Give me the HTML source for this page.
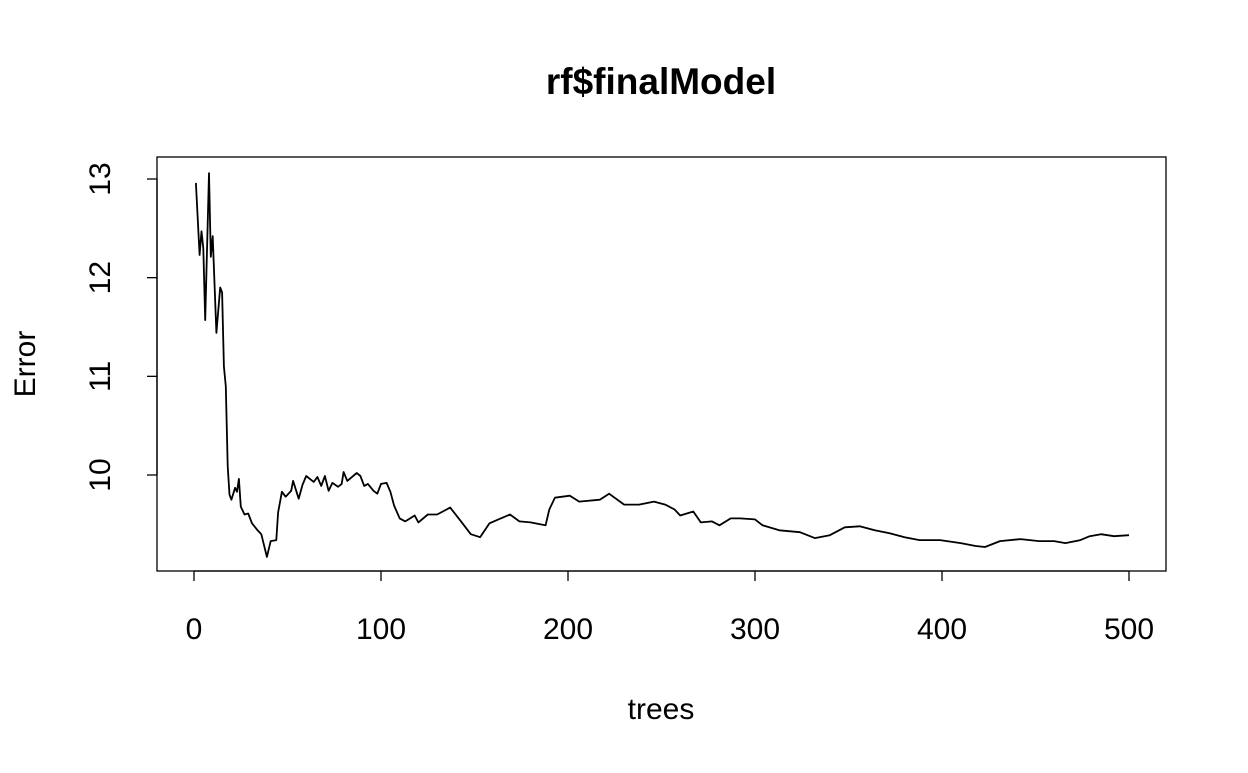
<!DOCTYPE html>
<html><head><meta charset="utf-8"><style>
body{margin:0;background:#fff}
svg text{font-family:"Liberation Sans",Arial,sans-serif;fill:#000}
</style></head><body>
<svg id="chart" width="1248" height="768" xmlns="http://www.w3.org/2000/svg">
<text x="661" y="94" font-size="37" font-weight="bold" text-anchor="middle">rf$finalModel</text>
<rect x="157" y="157" width="1009" height="414" fill="none" stroke="#000" stroke-width="1.3"/>
<g id="xaxis"></g>
<g id="yaxis"></g>
<text x="661" y="719" font-size="30" text-anchor="middle">trees</text>
<text x="0" y="0" font-size="30" text-anchor="middle" transform="translate(35,364) rotate(-90)">Error</text>
<path id="line" fill="none" stroke="#000" stroke-width="1.8" stroke-linejoin="round"/>
</svg>
<script>
const trees=[1,3,4,5,6,8,9,10,12,14,15,16,17,18,19,20,22,23,24,25,27,29,31,34,36,39,41,44,45,47,49,52,53,56,58,60,64,66,68,70,72,74,77,79,80,82,87,89,91,93,96,98,100,103,105,107,110,113,118,120,125,130,137,142,148,153,158,164,169,174,180,185,188,190,193,201,206,217,222,230,238,246,252,257,260,267,271,277,281,287,292,300,304,313,324,332,340,348,356,364,372,380,388,399,410,418,423,431,442,452,460,466,474,479,485,492,500];
const errors=[12.96,12.23,12.47,12.3,11.57,13.06,12.21,12.42,11.44,11.9,11.85,11.1,10.9,10.09,9.8,9.75,9.87,9.83,9.96,9.68,9.6,9.61,9.51,9.44,9.4,9.17,9.33,9.34,9.62,9.83,9.78,9.84,9.94,9.76,9.9,9.99,9.93,9.98,9.89,9.99,9.84,9.92,9.88,9.91,10.03,9.94,10.02,9.99,9.89,9.91,9.84,9.81,9.91,9.92,9.83,9.69,9.56,9.53,9.59,9.52,9.6,9.6,9.67,9.55,9.4,9.37,9.51,9.56,9.6,9.53,9.52,9.5,9.49,9.65,9.77,9.79,9.73,9.75,9.81,9.7,9.7,9.73,9.7,9.65,9.59,9.63,9.52,9.53,9.49,9.56,9.56,9.55,9.49,9.44,9.42,9.36,9.39,9.47,9.48,9.44,9.41,9.37,9.34,9.34,9.31,9.28,9.27,9.33,9.35,9.33,9.33,9.31,9.34,9.38,9.4,9.38,9.39];
const xTicks=[0,100,200,300,400,500];
const yTicks=[10,11,12,13];
const X=v=>194+(v-0)*(1129-194)/500;
const Y=v=>475-(v-10)*(475-179)/3;
const NS="http://www.w3.org/2000/svg";
const xa=document.getElementById('xaxis'),ya=document.getElementById('yaxis');
function mk(tag,attrs,parent){const e=document.createElementNS(NS,tag);for(const k in attrs)e.setAttribute(k,attrs[k]);parent.appendChild(e);return e;}
let a=mk('line',{x1:X(xTicks[0]),x2:X(xTicks[xTicks.length-1]),y1:571,y2:571,stroke:'#000','stroke-width':1.3},xa);


xTicks.forEach(t=>{
 const l=mk('line',{x1:X(t),x2:X(t),y1:571,y2:581,stroke:'#000','stroke-width':1.3},xa);
 
 
 const tx=mk('text',{x:X(t),y:639,'font-size':30,'text-anchor':'middle'},xa);tx.textContent=t;
 
 
});
let b=mk('line',{x1:157,x2:157,y1:Y(yTicks[0]),y2:Y(yTicks[yTicks.length-1]),stroke:'#000','stroke-width':1.3},ya);


yTicks.forEach(t=>{
 const l=mk('line',{x1:147,x2:157,y1:Y(t),y2:Y(t),stroke:'#000','stroke-width':1.3},ya);
 
 
 const tx=mk('text',{x:0,y:0,'font-size':30,'text-anchor':'middle',transform:`translate(110,${Y(t)}) rotate(-90)`},ya);tx.textContent=t;
 
 
});
document.getElementById('line').setAttribute('d',trees.map((t,i)=>(i?'L':'M')+X(t).toFixed(1)+','+Y(errors[i]).toFixed(1)).join(''));
</script>
</body></html>
